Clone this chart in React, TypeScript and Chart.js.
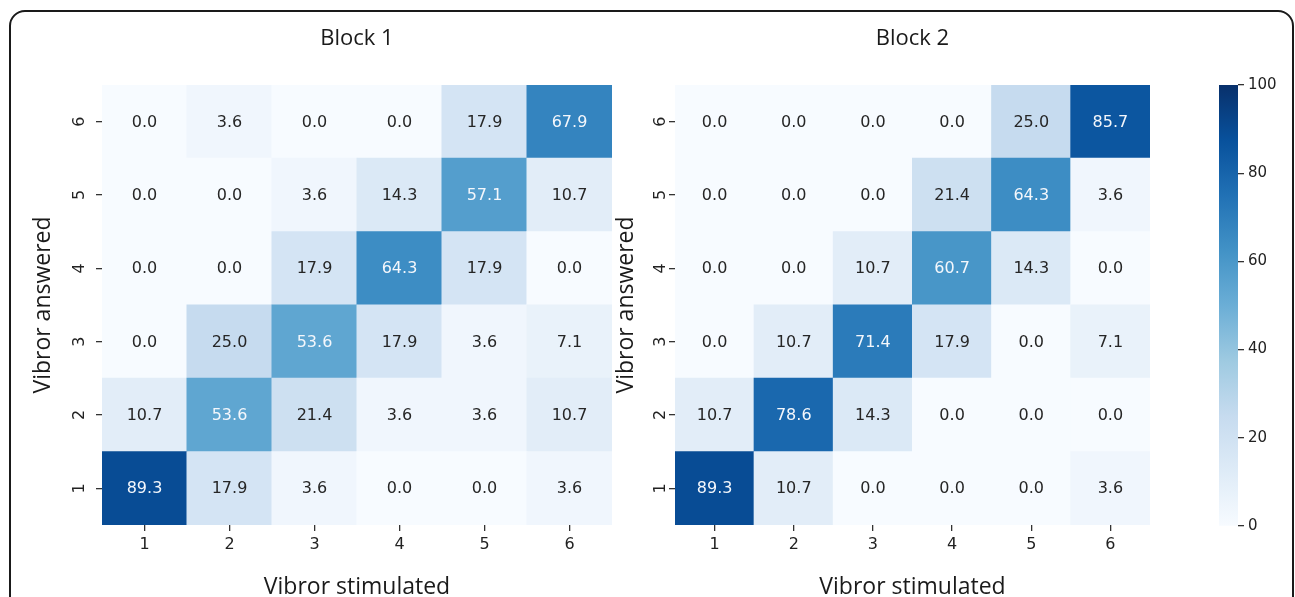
import React, { useEffect, useRef } from "react";
import { Chart, registerables } from "chart.js";

Chart.register(...registerables);

const stimulatedLabels = ["1", "2", "3", "4", "5", "6"];
const answeredLevels = [1, 2, 3, 4, 5, 6];
const colorbarTicks = [0, 20, 40, 60, 80, 100];
const blockTitles = ["Block 1", "Block 2"];

const block1Row1 = [89.3, 17.9, 3.6, 0.0, 0.0, 3.6];
const block1Row2 = [10.7, 53.6, 21.4, 3.6, 3.6, 10.7];
const block1Row3 = [0.0, 25.0, 53.6, 17.9, 3.6, 7.1];
const block1Row4 = [0.0, 0.0, 17.9, 64.3, 17.9, 0.0];
const block1Row5 = [0.0, 0.0, 3.6, 14.3, 57.1, 10.7];
const block1Row6 = [0.0, 3.6, 0.0, 0.0, 17.9, 67.9];

const block2Row1 = [89.3, 10.7, 0.0, 0.0, 0.0, 3.6];
const block2Row2 = [10.7, 78.6, 14.3, 0.0, 0.0, 0.0];
const block2Row3 = [0.0, 10.7, 71.4, 17.9, 0.0, 7.1];
const block2Row4 = [0.0, 0.0, 10.7, 60.7, 14.3, 0.0];
const block2Row5 = [0.0, 0.0, 0.0, 21.4, 64.3, 3.6];
const block2Row6 = [0.0, 0.0, 0.0, 0.0, 25.0, 85.7];

const block1 = [block1Row1, block1Row2, block1Row3, block1Row4, block1Row5, block1Row6];
const block2 = [block2Row1, block2Row2, block2Row3, block2Row4, block2Row5, block2Row6];

const bluesStops = [
  "#f7fbff", "#deebf7", "#c6dbef", "#9ecae1", "#6baed6",
  "#4292c6", "#2171b5", "#08519c", "#08306b",
];

function hexToRgb(h: string) {
  return [parseInt(h.slice(1, 3), 16), parseInt(h.slice(3, 5), 16), parseInt(h.slice(5, 7), 16)];
}

function blues(v: number): number[] {
  const t = Math.max(0, Math.min(1, v / 100)) * (bluesStops.length - 1);
  const i = Math.min(bluesStops.length - 2, Math.floor(t));
  const f = t - i;
  const a = hexToRgb(bluesStops[i]);
  const b = hexToRgb(bluesStops[i + 1]);
  return a.map((c, k) => Math.round(c + (b[k] - c) * f));
}

function colorFor(v: number) {
  const [r, g, b] = blues(v);
  return `rgb(${r},${g},${b})`;
}

function textColorFor(v: number) {
  const lin = blues(v).map((c) => {
    const s = c / 255;
    return s <= 0.03928 ? s / 12.92 : Math.pow((s + 0.055) / 1.055, 2.4);
  });
  const lum = 0.2126 * lin[0] + 0.7152 * lin[1] + 0.0722 * lin[2];
  return lum > 0.408 ? "#262626" : "#f4f7fc";
}

const TITLE_FONT = "'Open Sans', 'DejaVu Sans', sans-serif";
const TICK_FONT = "'DejaVu Sans', sans-serif";
const TICK_SIZE = 16;

const valueLabels = {
  id: "valueLabels",
  afterDatasetsDraw(chart: any) {
    const ctx = chart.ctx;
    ctx.save();
    ctx.font = `16px ${TICK_FONT}`;
    ctx.textAlign = "center";
    ctx.textBaseline = "middle";
    chart.data.datasets.forEach((ds: any, di: number) => {
      const meta = chart.getDatasetMeta(di);
      meta.data.forEach((el: any, i: number) => {
        const v = ds.values[i];
        const p = el.getCenterPoint();
        ctx.fillStyle = textColorFor(v);
        ctx.fillText(v.toFixed(1), p.x, p.y + 1);
      });
    });
    ctx.restore();
  },
};

// Rotated (matplotlib-like, rotation=90) y tick labels placed at the y scale's tick pixels
const rotatedYTicks = {
  id: "rotatedYTicks",
  afterDraw(chart: any, _args: any, opts: any) {
    const s = chart.scales.y;
    const ctx = chart.ctx;
    ctx.save();
    ctx.font = `${TICK_SIZE}px ${TICK_FONT}`;
    ctx.fillStyle = "#222";
    ctx.textAlign = "center";
    ctx.textBaseline = "alphabetic";
    s.ticks.forEach((t: any) => {
      const y = s.getPixelForValue(t.value);
      ctx.save();
      ctx.translate(chart.chartArea.left - opts.offset, y);
      ctx.rotate(-Math.PI / 2);
      ctx.fillText(String(t.value), 0, TICK_SIZE * 0.364);
      ctx.restore();
    });
    ctx.restore();
  },
};

type HeatProps = {
  rows: number[][];
  title: string;
  left: number;
  width: number;
  padLeft: number;
  padRight: number;
  yWidth: number;
  labelOffset: number;
};

const CANVAS_H = 601;

function Heatmap({ rows, title, left, width, padLeft, padRight, yWidth, labelOffset }: HeatProps) {
  const ref = useRef<HTMLCanvasElement>(null);
  useEffect(() => {
    if (!ref.current) return;
    const datasets = rows.map((vals, ri) => {
      const level = answeredLevels[ri];
      return {
        data: vals.map(() => [level - 0.5, level + 0.5]),
        values: vals,
        backgroundColor: vals.map(colorFor),
        grouped: false,
        barPercentage: 1,
        categoryPercentage: 1,
        borderWidth: 0,
        inflateAmount: 0.5,
      } as any;
    });
    const chart = new Chart(ref.current, {
      type: "bar",
      data: { labels: stimulatedLabels, datasets },
      options: {
        responsive: false,
        animation: false,
        layout: { padding: { left: padLeft, right: padRight, top: 26, bottom: 0 } },
        plugins: {
          legend: { display: false },
          tooltip: { enabled: false },
          rotatedYTicks: { offset: labelOffset },
        },
        scales: {
          x: {
            type: "category",
            position: "bottom",
            offset: true,
            grid: { offset: false, drawOnChartArea: false, drawTicks: true, tickLength: 6, color: "#333", lineWidth: 1.3 },
            border: { display: false },
            ticks: { padding: 4, color: "#222", font: { family: TICK_FONT, size: TICK_SIZE }, maxRotation: 0, minRotation: 0 },
            title: { display: true, text: "Vibror stimulated", color: "#1a1a1a", font: { family: TITLE_FONT, size: 23 }, padding: 0 },
            afterFit: (s: any) => { s.height = CANVAS_H - 525; },
          },
          x2: {
            type: "category",
            position: "top",
            display: true,
            grid: { display: false },
            border: { display: false },
            ticks: { display: false },
            title: { display: true, text: title, color: "#1a1a1a", font: { family: TITLE_FONT, size: 22 }, padding: 0 },
            afterFit: (s: any) => { s.height = 85 - 26; },
          },
          y: {
            type: "linear",
            position: "left",
            min: 0.5,
            max: 6.5,
            afterBuildTicks: (s: any) => { s.ticks = answeredLevels.map((v) => ({ value: v })); },
            afterFit: (s: any) => { s.width = yWidth; },
            grid: { drawOnChartArea: false, drawTicks: true, tickLength: 6, color: "#333", lineWidth: 1.3 },
            border: { display: false },
            ticks: { display: false },
            title: { display: true, text: "Vibror answered", color: "#1a1a1a", font: { family: TITLE_FONT, size: 23 }, padding: 0 },
          },
        },
      } as any,
      plugins: [valueLabels, rotatedYTicks],
    });
    return () => chart.destroy();
  }, []);
  return (
    <canvas
      ref={ref}
      width={width}
      height={CANVAS_H}
      style={{ position: "absolute", left, top: 0, width, height: CANVAS_H, display: "block" }}
    />
  );
}

function Colorbar() {
  const ref = useRef<HTMLCanvasElement>(null);
  useEffect(() => {
    if (!ref.current) return;
    const chart = new Chart(ref.current, {
      type: "bar",
      data: {
        labels: [""],
        datasets: [
          {
            data: [[colorbarTicks[0], colorbarTicks[colorbarTicks.length - 1]]],
            backgroundColor: (c: any) => {
              const ca = c.chart.chartArea;
              if (!ca) return bluesStops[4];
              const g = c.chart.ctx.createLinearGradient(0, ca.bottom, 0, ca.top);
              bluesStops.forEach((col, i) => g.addColorStop(i / (bluesStops.length - 1), col));
              return g;
            },
            barPercentage: 1,
            categoryPercentage: 1,
            borderWidth: 0,
          } as any,
        ],
      },
      options: {
        responsive: false,
        animation: false,
        layout: { padding: { left: 19, right: 0, top: 85, bottom: 597 - 526 } },
        plugins: { legend: { display: false }, tooltip: { enabled: false } },
        scales: {
          x: { display: false },
          y: {
            position: "right",
            min: 0,
            max: 100,
            afterBuildTicks: (s: any) => { s.ticks = colorbarTicks.map((v) => ({ value: v })); },
            afterFit: (s: any) => { s.width = 57; },
            grid: { drawOnChartArea: false, drawTicks: true, tickLength: 6, color: "#333", lineWidth: 1.3 },
            border: { display: false },
            ticks: { padding: 4, color: "#222", font: { family: TICK_FONT, size: 15 } },
          },
        },
      } as any,
    });
    return () => chart.destroy();
  }, []);
  return (
    <canvas
      ref={ref}
      width={95}
      height={597}
      style={{ position: "absolute", left: 1200, top: 0, width: 95, height: 597, display: "block" }}
    />
  );
}

export default function App() {
  return (
    <div
      style={{
        position: "fixed",
        left: 0,
        top: 0,
        width: 1295,
        height: 597,
        background: "#ffffff",
        overflow: "hidden",
      }}
    >
      <div
        style={{
          position: "absolute",
          left: 9,
          top: 10,
          width: 1285,
          height: 660,
          border: "2px solid #1a1a1a",
          borderRadius: 16,
          boxSizing: "border-box",
        }}
      />
      <Heatmap rows={block1} title={blockTitles[0]} left={0} width={650} padLeft={30} padRight={38} yWidth={72} labelOffset={24} />
      <Heatmap rows={block2} title={blockTitles[1]} left={600} width={580} padLeft={13} padRight={30} yWidth={62} labelOffset={15.5} />
      <Colorbar />
    </div>
  );
}
